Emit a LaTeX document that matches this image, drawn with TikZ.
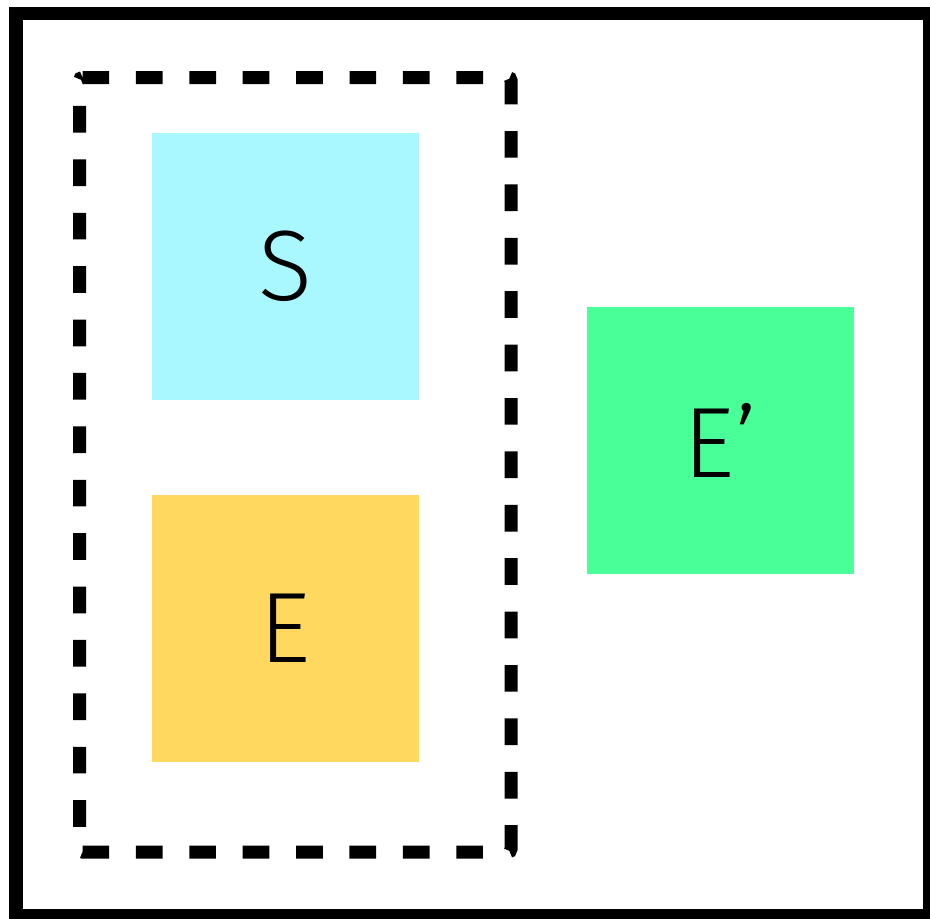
\documentclass[tikz,border=0pt]{standalone}
\usepackage{fontspec}
\setmainfont{Fira Sans Light}
\definecolor{scyan}{RGB}{170,248,255}
\definecolor{eyellow}{RGB}{255,216,96}
\definecolor{egreen}{RGB}{72,255,152}
\begin{document}
\begin{tikzpicture}[x=1pt,y=-1pt,
  box/.style={rectangle,inner sep=0pt,minimum width=267pt,minimum height=267pt,
    font=\fontsize{100}{100}\selectfont,text=black},
  group/.style={draw=black,line width=13pt,dash pattern=on 26.7pt off 26.7pt,rounded corners=3pt}]
\useasboundingbox (0,0) rectangle (930,919);
% outer frame
\fill[black] (9,7) rectangle (930,919);
\fill[white] (23,20) rectangle (923,909);
% dashed group
\draw[group] (79.5,77.5) -- (511,77.5) -- (511,852) -- (79.5,852) -- cycle;
% boxes
\node[box,fill=scyan] (S) at (285.5,266.5) {S};
\node[box,fill=eyellow] (E) at (285.5,628.5) {E};
\node[box,fill=egreen] (Ep) at (720.5,440.5) {E’};
\end{tikzpicture}
\end{document}
